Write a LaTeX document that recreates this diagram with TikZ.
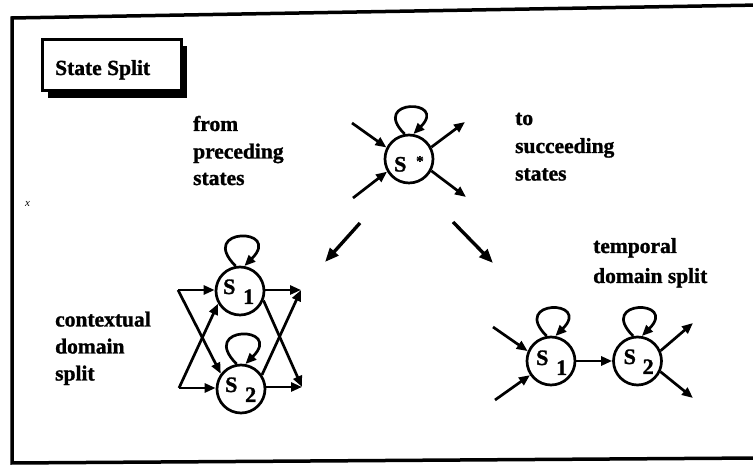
\documentclass[tikz,border=0pt]{standalone}
\usepackage{fontspec}
\setmainfont{Liberation Serif}[BoldFeatures={FakeBold=1.3}]
\usetikzlibrary{arrows.meta}
\begin{document}
\begin{tikzpicture}[x=1pt,y=1pt,
  lbl/.style={anchor=base west, inner sep=0pt, font=\fontsize{21.5}{26}\selectfont\bfseries},
  st/.style={circle, draw, line width=2.7pt, minimum size=48pt, inner sep=0pt},
  sl/.style={anchor=base west, inner sep=0pt, font=\fontsize{22}{26}\selectfont\bfseries},
  arr/.style={line width=2.7pt, -{Triangle[length=11pt,width=9pt]}},
  bigarr/.style={line width=3.4pt, -{Triangle[length=14pt,width=11pt]}},
  frameline/.style={line width=3.5pt},
  selfloop/.style={arr}
]
\useasboundingbox (0,0) rectangle (753,465);

% outer frame
\coordinate (f1) at (760,460);
\coordinate (f2) at (12,447);
\coordinate (f3) at (12,2);
\coordinate (f4) at (760,7);
\draw[frameline] (f1) -- (f2) -- (f3) -- (f4);

% title box
\fill (48,367) rectangle (187,419);
\node[draw, fill=white, line width=3pt, minimum width=139pt, minimum height=51pt, inner sep=0pt] (title) at (111.5,399.5) {};
\node[lbl] (titletext) at (55,390) {State Split};

% labels
\node[lbl] (from1) at (193,334) {from};
\node[lbl] (from2) at (193,306.5) {preceding};
\node[lbl] (from3) at (193,280) {states};
\node[lbl] (to1) at (515,340) {to};
\node[lbl] (to2) at (515,312) {succeeding};
\node[lbl] (to3) at (515,284.5) {states};
\node[lbl] (ctx1) at (55,138.5) {contextual};
\node[lbl] (ctx2) at (55,111.5) {domain};
\node[lbl] (ctx3) at (55,84.5) {split};
\node[lbl] (tmp1) at (593,212) {temporal};
\node[lbl] (tmp2) at (593,182) {domain split};
\node[anchor=base west, inner sep=0pt, font=\fontsize{11}{12}\selectfont\itshape] (xmark) at (25,258) {x};

% S* state
\node[st] (Ss) at (409,306) {};
\node[sl] (Ss-S) at ([shift={(-15,-12.5)}]Ss.center) {S};
\node[anchor=base west, inner sep=0pt, font=\fontsize{15}{18}\selectfont\bfseries] (Ss-a) at ([shift={(7,-7)}]Ss.center) {*};
\draw[selfloop] (Ss.100) .. controls +(135:50) and +(45:50) .. (Ss.80);
\coordinate (si1) at (352,342);
\coordinate (si2) at (353,267);
\coordinate (so1) at (465,343);
\coordinate (so2) at (466,268);
\draw[arr] (si1) -- (Ss.153);
\draw[arr] (si2) -- (Ss.210);
\draw[arr] (Ss.28) -- (so1);
\draw[arr] (Ss.-28) -- (so2);

% split arrows
\coordinate (mL1) at (360,242);
\coordinate (mL2) at (325,203);
\coordinate (mR1) at (453,243);
\coordinate (mR2) at (493,202);
\draw[bigarr] (mL1) -- (mL2);
\draw[bigarr] (mR1) -- (mR2);

% contextual domain split
\node[st] (C1) at (240,174) {};
\node[sl] (C1-S) at ([shift={(-17,-3)}]C1.center) {S};
\node[sl] (C1-i) at ([shift={(3,-13)}]C1.center) {1};
\node[st] (C2) at (241,76) {};
\node[sl] (C2-S) at ([shift={(-16,-3)}]C2.center) {S};
\node[sl] (C2-i) at ([shift={(4,-13)}]C2.center) {2};
\draw[selfloop] (C1.100) .. controls +(135:55) and +(45:55) .. (C1.80);
\draw[selfloop] (C2.100) .. controls +(135:55) and +(45:55) .. (C2.80);
\coordinate (TL) at (178,175);
\coordinate (BL) at (179,77);
\coordinate (TR) at (301,175);
\coordinate (BR) at (302,78);
\draw[arr] (TL) -- (C1.west |- TL);
\draw[arr] (TL) -- (C2.143);
\draw[arr] (BL) -- (C2.west |- BL);
\draw[arr] (BL) -- (C1.210);
\draw[arr] (C1.east |- TR) -- (TR);
\draw[arr] (C1.-22) -- (BR);
\draw[arr] (C2.east |- BR) -- (BR);
\draw[arr] (C2.34) -- (TR);

% temporal domain split
\node[st] (T1) at (551,104) {};
\node[sl] (T1-S) at ([shift={(-15,-4)}]T1.center) {S};
\node[sl] (T1-i) at ([shift={(5,-14)}]T1.center) {1};
\node[st] (T2) at (637.5,104) {};
\node[sl] (T2-S) at ([shift={(-14,-3)}]T2.center) {S};
\node[sl] (T2-i) at ([shift={(5,-13)}]T2.center) {2};
\draw[selfloop] (T1.100) .. controls +(135:52) and +(45:52) .. (T1.80);
\draw[selfloop] (T2.100) .. controls +(135:52) and +(45:52) .. (T2.80);
\coordinate (ti1) at (493,138);
\coordinate (ti2) at (495,65);
\coordinate (to1) at (693,142);
\coordinate (to2) at (693,67);
\draw[arr] (ti1) -- (T1.157);
\draw[arr] (ti2) -- (T1.214);
\draw[arr] (T1) -- (T2);
\draw[arr] (T2.24) -- (to1);
\draw[arr] (T2.-25) -- (to2);
\end{tikzpicture}
\end{document}
